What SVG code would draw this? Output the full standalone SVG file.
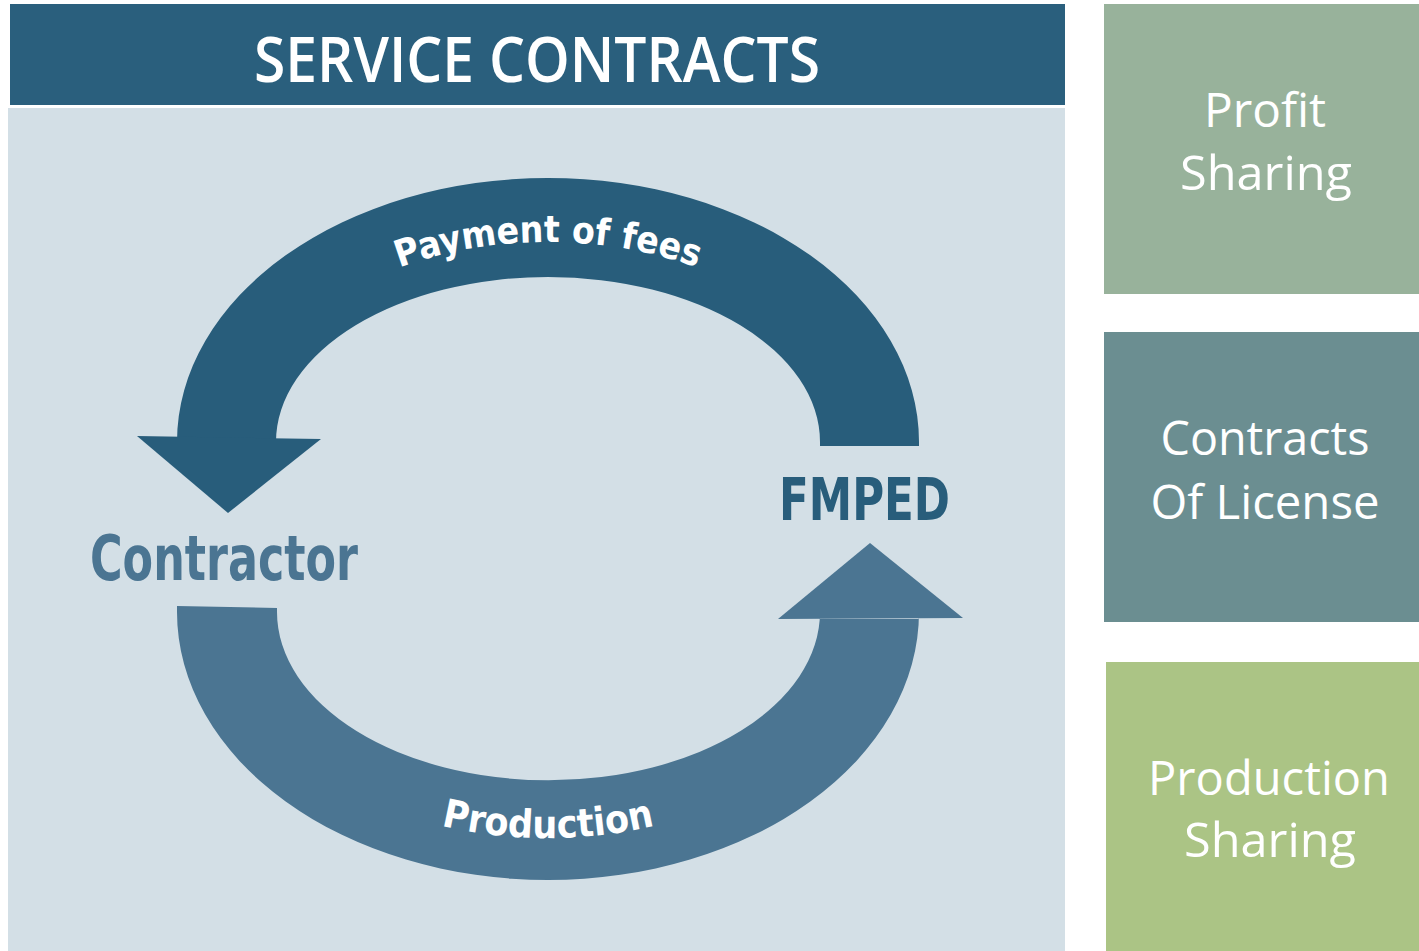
<svg xmlns="http://www.w3.org/2000/svg" xmlns:xlink="http://www.w3.org/1999/xlink" width="1419" height="951" viewBox="0 0 1419 951">
<style>
.side{font-family:"Open Sans","Noto Sans",sans-serif;font-size:48px;fill:#ffffff;text-anchor:middle}
.arcl{font-family:"DejaVu Sans Condensed","DejaVu Sans",sans-serif;font-weight:bold;fill:#ffffff;text-anchor:middle}
.lbl{font-family:"DejaVu Sans Condensed","DejaVu Sans",sans-serif;font-weight:bold}
</style>
<defs>
<path id="topPath" d="M 244 442 A 304 200 0 0 1 852 442"/>
<path id="botPath" d="M 221 612 A 327 226 0 0 0 875 612"/>
</defs>
<rect width="1419" height="951" fill="#ffffff"/>
<g id="header">
<rect x="10" y="4" width="1055" height="101" fill="#2a5f7d"/>
<text x="537" y="82" font-family="Open Sans, Noto Sans, sans-serif" font-weight="600" font-size="64" fill="#ffffff" text-anchor="middle" textLength="566" lengthAdjust="spacingAndGlyphs">SERVICE CONTRACTS</text>
</g>
<g id="panel">
<rect x="8" y="108" width="1057" height="843" fill="#d3dfe6"/>
</g>
<g id="connectors">
<g id="payment-arrow" fill="#285d7b">
<path d="M 177 442 A 371 264 0 0 1 919 442 L 919 446 L 820 446 L 820 442 A 272 165 0 0 0 276 442 Z"/>
<polygon points="137,436 321,439 228,513"/>
<text class="arcl" font-size="37"><textPath xlink:href="#topPath" href="#topPath" startOffset="50%">Payment of fees</textPath></text>
</g>
<g id="production-arrow" fill="#4b7592">
<path d="M 177 606 L 177 612 A 371 268 0 0 0 919 612 L 919 619 L 820 619 L 820 612 A 271 168 0 0 1 277 612 L 277 608 Z"/>
<polygon points="778,619 870,543 963,618"/>
<text class="arcl" font-size="39"><textPath xlink:href="#botPath" href="#botPath" startOffset="50%">Production</textPath></text>
</g>
</g>
<g id="contractor">
<text class="lbl" x="90" y="580" font-size="62" fill="#4b7592" textLength="268" lengthAdjust="spacingAndGlyphs">Contractor</text>
</g>
<g id="fmped">
<text class="lbl" x="779" y="520" font-size="58" fill="#285d7b" textLength="171" lengthAdjust="spacingAndGlyphs">FMPED</text>
</g>
<g id="profit-sharing">
<rect x="1104" y="4" width="315" height="290" fill="#98b29b"/>
<text class="side" x="1265" y="127" textLength="122" lengthAdjust="spacingAndGlyphs">Profit</text>
<text class="side" x="1266" y="190" textLength="172" lengthAdjust="spacingAndGlyphs">Sharing</text>
</g>
<g id="contracts-of-license">
<rect x="1104" y="332" width="315" height="290" fill="#6b8e91"/>
<text class="side" x="1265" y="455" textLength="209" lengthAdjust="spacingAndGlyphs">Contracts</text>
<text class="side" x="1265" y="519" textLength="229" lengthAdjust="spacingAndGlyphs">Of License</text>
</g>
<g id="production-sharing">
<rect x="1106" y="662" width="313" height="289" fill="#abc485"/>
<text class="side" x="1269" y="795" textLength="242" lengthAdjust="spacingAndGlyphs">Production</text>
<text class="side" x="1270" y="857" textLength="172" lengthAdjust="spacingAndGlyphs">Sharing</text>
</g>
</svg>
